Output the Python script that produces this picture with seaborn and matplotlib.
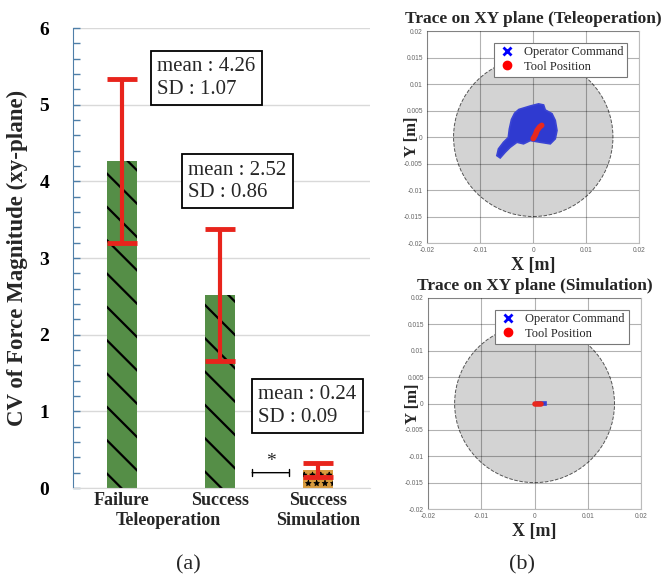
# gráfico: CV da força (a) e traços no plano XY (b)

import matplotlib
matplotlib.use('Agg')
import matplotlib.pyplot as plt
import matplotlib.transforms as mtransforms
from matplotlib.patches import Circle
from matplotlib.lines import Line2D
import seaborn as sns

# ---- dados do painel (a) ----
conditions = ['Failure', 'Success (Tele)', 'Success (Sim)']
tick_names = ['Failure', 'Success', 'Success']
group_names = ['Teleoperation', 'Simulation']
group_pos = [0.47, 2.0]
cv_mean = [4.26, 2.52, 0.24]
cv_sd = [1.07, 0.86, 0.09]
box_texts = ['mean : 4.26\nSD : 1.07', 'mean : 2.52\nSD : 0.86', 'mean : 0.24\nSD : 0.09']
bar_colors = ['#4e9a3b', '#4e9a3b', '#f2a124']
bar_hatches = ['\\', '\\', '**']

# ---- dados do painel (b): contornos ----
tele_cmd_x = [-0.0027, -0.00056, 0.0010, 0.00195, 0.00227, 0.00353, 0.00415, 0.00447,
              0.00415, 0.00321, 0.00132, -0.00056, -0.00183, -0.00307, -0.00434,
              -0.00528, -0.00622, -0.00685, -0.00655, -0.0056, -0.0047, -0.0045,
              -0.0041, -0.0035]
tele_cmd_y = [0.0052, 0.00585, 0.00625, 0.00605, 0.00510, 0.0044, 0.00313, 0.00123,
              -0.00034, -0.00129, -0.00099, -0.00067, -0.00129, -0.00099, -0.00194,
              -0.00288, -0.00395, -0.00351, -0.00224, -0.00099, -0.0001, 0.0015,
              0.0033, 0.0045]
tele_tool_x = [0.0000, 0.0004, 0.0007, 0.0012, 0.0016]
tele_tool_y = [-0.0003, 0.0004, 0.0012, 0.0019, 0.0022]
sim_cmd_x = [0.0005, 0.0022, 0.0022, 0.0005]
sim_cmd_y = [-0.0003, -0.0003, 0.0003, 0.0003]
sim_tool_x = [0.0, 0.0013]
sim_tool_y = [0.0, 0.0]
ws_radius = 0.015
trace_xticks = [-0.02, -0.01, 0, 0.01, 0.02]
trace_xlabels = ['-0.02', '-0.01', '0', '0.01', '0.02']
trace_yticks = [-0.02, -0.015, -0.01, -0.005, 0, 0.005, 0.01, 0.015, 0.02]
trace_ylabels = ['-0.02', '-0.015', '-0.01', '-0.005', '0', '0.005', '0.01', '0.015', '0.02']
trace_titles = ['Trace on XY plane (Teleoperation)', 'Trace on XY plane (Simulation)']

# estilo
sns.set_style('white')
plt.rcParams['font.family'] = ['Liberation Serif', 'DejaVu Serif']
plt.rcParams['hatch.linewidth'] = 1.6

fig = plt.figure(figsize=(6.62, 5.85), dpi=100)

# ================= painel (a) =================
ax = fig.add_axes([0.110, 0.1658, 0.449, 0.7862])
sns.barplot(x=conditions, y=cv_mean, hue=conditions, palette=bar_colors,
            width=0.31, errorbar=None, legend=False, ax=ax, zorder=2)
for p, h in zip(ax.patches, bar_hatches):
    p.set_hatch(h)
    p.set_edgecolor('black')
    p.set_linewidth(0)
    if h.startswith('*') and hasattr(p, 'set_hatch_linewidth'):
        p.set_hatch_linewidth(0.5)

ax.errorbar(x=[0, 1, 2], y=cv_mean, yerr=cv_sd, fmt='none', ecolor='#e8241c',
            elinewidth=3, capsize=10.5, capthick=3.5, zorder=4)

ax.set_xlim(-0.5, 2.53)
ax.set_ylim(0, 6)
ax.set_yticks(range(7))
ax.set_yticks([i * 0.2 for i in range(31)], minor=True)
ax.grid(axis='y', color='#d9d9d9', lw=1)
ax.set_axisbelow(True)
for s in ['top', 'right']:
    ax.spines[s].set_visible(False)
ax.spines['left'].set_color('#4f7fa8')
ax.spines['bottom'].set_color('#d9d9d9')
ax.tick_params(axis='y', which='both', direction='in', colors='#4f7fa8',
               labelcolor='black', length=5, width=1, left=True, pad=17)
ax.tick_params(axis='y', labelsize=14)
for lab in ax.get_yticklabels():
    lab.set_fontweight('bold')
ax.set_xticks([0, 1, 2])
ax.set_xticklabels(tick_names, fontsize=13, fontweight='bold')
ax.tick_params(axis='x', length=0, pad=3)
ax.set_xlabel('')
ax.set_ylabel('CV of Force Magnitude (xy-plane)', fontsize=16.5, fontweight='bold')
ax.yaxis.set_label_coords(-0.15, 0.5)

trans = mtransforms.blended_transform_factory(ax.transData, ax.transAxes)
for gx, gname in zip(group_pos, group_names):
    ax.text(gx, -0.071, gname, transform=trans, ha='center', va='center',
            fontsize=13, fontweight='bold')

box_pos = [(0.36, 5.62), (0.675, 4.27), (1.39, 1.34)]
for (bx, by), t in zip(box_pos, box_texts):
    ax.text(bx, by, t, ha='left', va='top', fontsize=15, linespacing=1.25,
            bbox=dict(boxstyle='square,pad=0.3', fc='white', ec='black', lw=1.3),
            zorder=5)

# significância
ax.annotate('', xy=(1.30, 0.2), xytext=(1.735, 0.2),
            arrowprops=dict(arrowstyle='|-|,widthA=0.25,widthB=0.25', lw=1, color='black'))
ax.text(1.517, 0.24, '*', ha='center', va='bottom', fontsize=14)

fig.text(0.284, 0.034, '(a)', ha='center', va='center', fontsize=16)
fig.text(0.789, 0.034, '(b)', ha='center', va='center', fontsize=16)

# ================= painel (b) =================
trace_axes = [fig.add_axes([0.645, 0.5846, 0.321, 0.3624]),
              fig.add_axes([0.6465, 0.1299, 0.322, 0.3607])]
traces = [(tele_cmd_x, tele_cmd_y, tele_tool_x, tele_tool_y),
          (sim_cmd_x, sim_cmd_y, sim_tool_x, sim_tool_y)]

for bx, (cx, cy, tx, ty), title in zip(trace_axes, traces, trace_titles):
    bx.add_patch(Circle((0, 0), ws_radius, fc='#d3d3d3', ec='#555555',
                        ls='--', lw=0.7, zorder=1))
    bx.fill(cx, cy, color='#2f3ad0', zorder=3, lw=1.2, ec='#3a44d4')
    bx.plot(tx, ty, color='#e8281e', lw=4, solid_capstyle='round', zorder=4)
    bx.set_xlim(-0.02, 0.02)
    bx.set_ylim(-0.02, 0.02)
    bx.set_xticks(trace_xticks)
    bx.set_xticklabels(trace_xlabels)
    bx.set_yticks(trace_yticks)
    bx.set_yticklabels(trace_ylabels)
    bx.grid(True, color='black', alpha=0.3, lw=0.8)
    bx.set_axisbelow(False)
    bx.tick_params(length=0, labelsize=4.8, labelcolor='#666666', pad=3)
    for lab in bx.get_xticklabels() + bx.get_yticklabels():
        lab.set_family('Liberation Sans')
    for s in bx.spines.values():
        s.set_color('#bbbbbb')
        s.set_linewidth(0.8)
    bx.set_title(title, fontsize=12.5, fontweight='bold', pad=6)
    bx.set_xlabel('X [m]', fontsize=13, fontweight='bold', labelpad=2)
    bx.text(-0.07, 0.5, 'Y [m]', transform=bx.transAxes, rotation=90,
            ha='center', va='center', fontsize=12, fontweight='bold')
    handles = [Line2D([], [], ls='none', marker='x', color='blue', mew=2, ms=6),
               Line2D([], [], ls='none', marker='o', color='red', ms=6)]
    leg = bx.legend(handles, ['Operator Command', 'Tool Position'], loc='upper right',
                    bbox_to_anchor=(0.97, 0.975), fontsize=9, fancybox=False,
                    framealpha=1, edgecolor='#777777', borderpad=0.3,
                    handletextpad=0.6, labelspacing=0.2, handlelength=1.5)
    leg.get_frame().set_linewidth(0.8)
    leg.set_zorder(6)

plt.savefig('out.png', dpi=100)
